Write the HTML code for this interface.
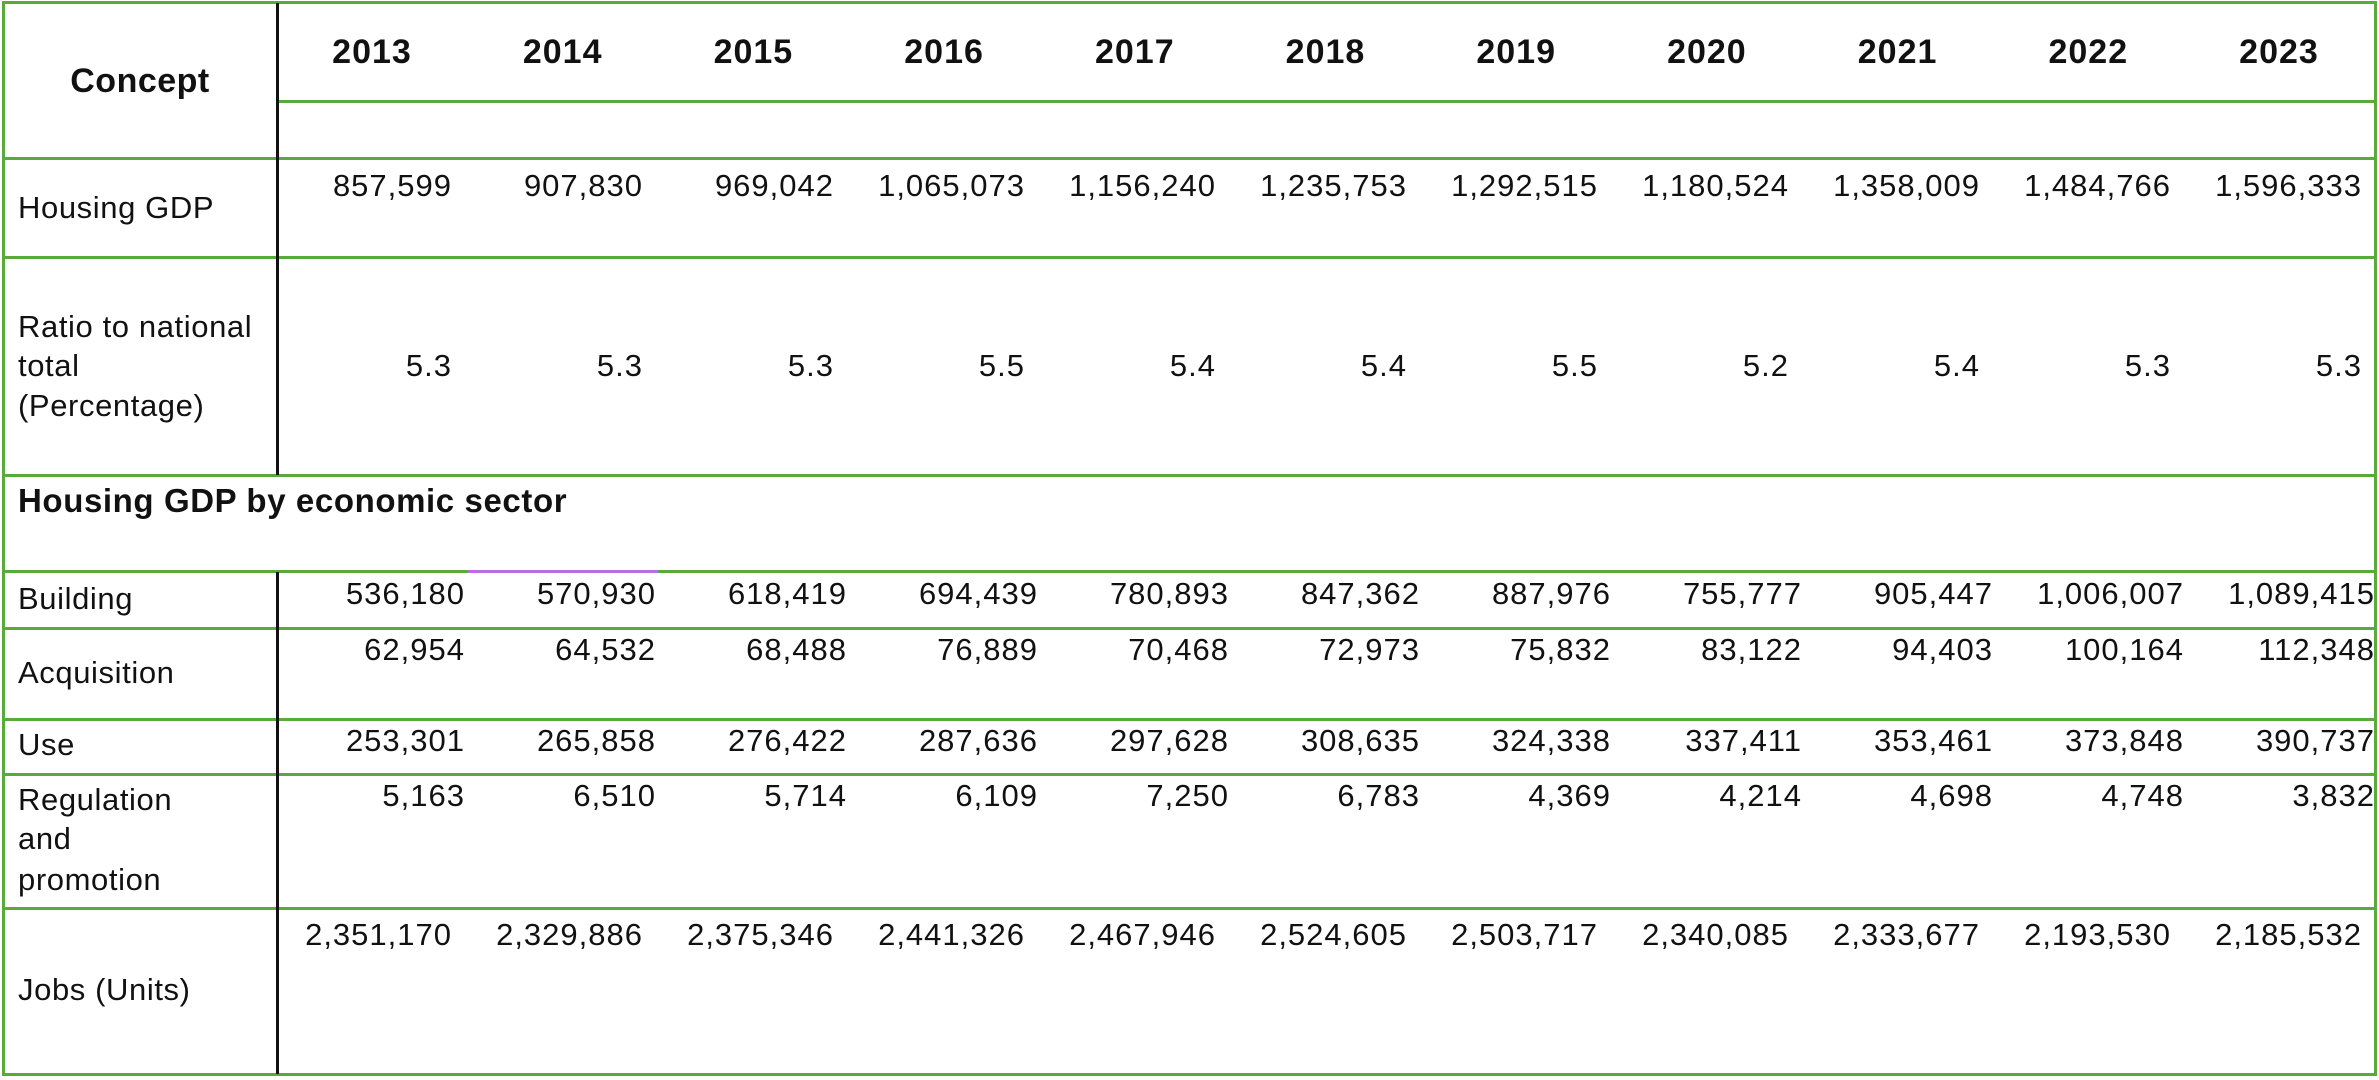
<!DOCTYPE html>
<html><head><meta charset="utf-8"><style>
html,body{margin:0;padding:0;background:#fff;}
#c{position:relative;width:2379px;height:1080px;overflow:hidden;font-family:"Liberation Sans",sans-serif;color:#111;}
.h{position:absolute;height:3px;background:#58ab3b;}
.v{position:absolute;width:3px;background:#58ab3b;}
.k{position:absolute;width:3px;background:#111;left:276px;}
.t{position:absolute;white-space:nowrap;line-height:1;}
.n{font-size:31px;text-align:right;width:200px;letter-spacing:1px;}
.l{font-size:31px;left:18px;letter-spacing:0.6px;}
.b{font-weight:bold;}
</style></head><body><div id="c">
<div class="h" style="left:2px;width:2375px;top:1px"></div>
<div class="h" style="left:277px;width:2100px;top:100px"></div>
<div class="h" style="left:2px;width:2375px;top:157px"></div>
<div class="h" style="left:2px;width:2375px;top:256px"></div>
<div class="h" style="left:2px;width:2375px;top:474px"></div>
<div class="h" style="left:2px;width:2375px;top:570px"></div>
<div class="h" style="left:468px;width:190px;top:570px;background:#b86ee0"></div>
<div class="h" style="left:2px;width:2375px;top:627px"></div>
<div class="h" style="left:2px;width:2375px;top:718px"></div>
<div class="h" style="left:2px;width:2375px;top:773px"></div>
<div class="h" style="left:2px;width:2375px;top:907px"></div>
<div class="h" style="left:2px;width:2375px;top:1073px"></div>
<div class="v" style="left:2px;top:1px;height:1075px"></div>
<div class="v" style="left:2374px;top:1px;height:1075px"></div>
<div class="k" style="top:3px;height:472px"></div>
<div class="k" style="top:572px;height:502px"></div>

<div class="t b" style="font-size:34px;left:40px;width:200px;text-align:center;top:64px;letter-spacing:0.5px">Concept</div>
<div class="t b" style="font-size:33px;left:18px;top:484px;letter-spacing:0.6px">Housing GDP by economic sector</div>

<div class="t l" style="top:192px">Housing GDP</div>
<div class="t l" style="top:311px">Ratio to national</div>
<div class="t l" style="top:350px">total</div>
<div class="t l" style="top:390px">(Percentage)</div>
<div class="t l" style="top:583px">Building</div>
<div class="t l" style="top:657px">Acquisition</div>
<div class="t l" style="top:729px">Use</div>
<div class="t l" style="top:784px">Regulation</div>
<div class="t l" style="top:823px">and</div>
<div class="t l" style="top:864px">promotion</div>
<div class="t l" style="top:974px">Jobs (Units)</div>
</div>
<script>
(function(){
var years=["2013","2014","2015","2016","2017","2018","2019","2020","2021","2022","2023"];
var rowsA=[
[170,["857,599","907,830","969,042","1,065,073","1,156,240","1,235,753","1,292,515","1,180,524","1,358,009","1,484,766","1,596,333"]],
[350,["5.3","5.3","5.3","5.5","5.4","5.4","5.5","5.2","5.4","5.3","5.3"]],
[919,["2,351,170","2,329,886","2,375,346","2,441,326","2,467,946","2,524,605","2,503,717","2,340,085","2,333,677","2,193,530","2,185,532"]]];
var rowsB=[
[578,["536,180","570,930","618,419","694,439","780,893","847,362","887,976","755,777","905,447","1,006,007","1,089,415"]],
[634,["62,954","64,532","68,488","76,889","70,468","72,973","75,832","83,122","94,403","100,164","112,348"]],
[725,["253,301","265,858","276,422","287,636","297,628","308,635","324,338","337,411","353,461","373,848","390,737"]],
[780,["5,163","6,510","5,714","6,109","7,250","6,783","4,369","4,214","4,698","4,748","3,832"]]];
var c=document.getElementById('c'),h='';
for(var i=0;i<11;i++){
 var cx=277+i*190.7+95;
 h+='<div class="t b" style="font-size:34px;letter-spacing:1px;left:'+(cx-100)+'px;width:200px;text-align:center;top:35px">'+years[i]+'</div>';
 for(var a=0;a<rowsA.length;a++){h+='<div class="t n" style="left:'+(452+i*191-200)+'px;top:'+rowsA[a][0]+'px">'+rowsA[a][1][i]+'</div>';}
 for(var b=0;b<rowsB.length;b++){h+='<div class="t n" style="left:'+(465+i*191-200)+'px;top:'+rowsB[b][0]+'px">'+rowsB[b][1][i]+'</div>';}
}
c.insertAdjacentHTML('beforeend',h);
})();
</script>
</body></html>
